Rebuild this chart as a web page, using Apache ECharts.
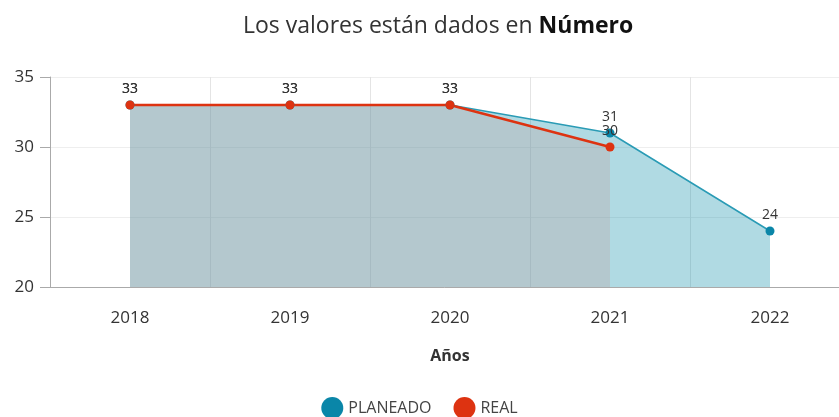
<!DOCTYPE html>
<html>
<head>
<meta charset="utf-8">
<script src="https://cdn.jsdelivr.net/npm/echarts@6/dist/echarts.min.js"></script>
<style>
  html, body { margin: 0; padding: 0; background: #fff; }
  #chart { width: 839px; height: 417px; }
</style>
</head>
<body>
<div id="chart"></div>
<script>
// datos del gráfico
var anios = ['2018', '2019', '2020', '2021', '2022'];
var planeado = [33, 33, 33, 31, 24];
var real = [33, 33, 33, 30];

var myChart = echarts.init(document.getElementById('chart'));
var option = {
    backgroundColor: '#fff',
    textStyle: { fontFamily: 'Open Sans' },
    title: {
        text: '{n|Los valores están dados en }{b|Número}',
        left: 238,
        top: 10,
        textStyle: {
            rich: {
                n: { fontSize: 23, color: '#333', fontWeight: 'normal', fontFamily: 'Open Sans' },
                b: { fontSize: 23, color: '#111', fontWeight: 'bold', fontFamily: 'Open Sans' }
            }
        }
    },
    legend: {
        bottom: -7,
        left: 'center',
        icon: 'circle',
        itemWidth: 22,
        itemHeight: 22,
        itemGap: 22,
        textStyle: { fontSize: 16, color: '#444' },
        data: ['PLANEADO', 'REAL']
    },
    grid: { left: 50, width: 800, top: 77, bottom: 130, outerBoundsMode: 'none' },
    xAxis: {
        type: 'category',
        data: anios,
        name: 'Años',
        nameLocation: 'middle',
        nameGap: 61,
        nameTextStyle: { fontWeight: 'bold', fontSize: 16, color: '#333' },
        axisLine: { lineStyle: { color: '#aaa' } },
        axisTick: { alignWithLabel: true, length: 6, lineStyle: { color: '#aaa' } },
        axisLabel: { fontSize: 17, color: '#333', margin: 23 },
        splitLine: { show: true, lineStyle: { color: '#e4e4e4' } }
    },
    yAxis: {
        type: 'value',
        min: 20,
        max: 35,
        interval: 5,
        axisLine: { show: true, lineStyle: { color: '#aaa' } },
        axisTick: { show: true, length: 10, lineStyle: { color: '#aaa' } },
        axisLabel: { fontSize: 17, color: '#333', margin: 16 },
        splitLine: { lineStyle: { color: '#eeeeee' } }
    },
    series: [
        {
            name: 'PLANEADO',
            type: 'line',
            data: planeado,
            symbol: 'circle',
            symbolSize: 9,
            itemStyle: { color: '#0a86a8' },
            lineStyle: { color: '#2a9bb5', width: 1.5 },
            areaStyle: { color: 'rgba(16,143,170,0.33)', opacity: 1, origin: 'start' },
            label: { show: true, position: 'top', fontSize: 14, color: '#333', distance: 4 }
        },
        {
            name: 'REAL',
            type: 'line',
            data: real,
            symbol: 'circle',
            symbolSize: 9,
            itemStyle: { color: '#dd3311' },
            lineStyle: { color: '#dd3311', width: 2.5 },
            areaStyle: { color: 'rgba(189,158,160,0.3)', opacity: 1, origin: 'start' },
            label: { show: true, position: 'top', fontSize: 14, color: '#333', distance: 4 }
        }
    ]
};
myChart.setOption(option);
</script>
</body>
</html>
